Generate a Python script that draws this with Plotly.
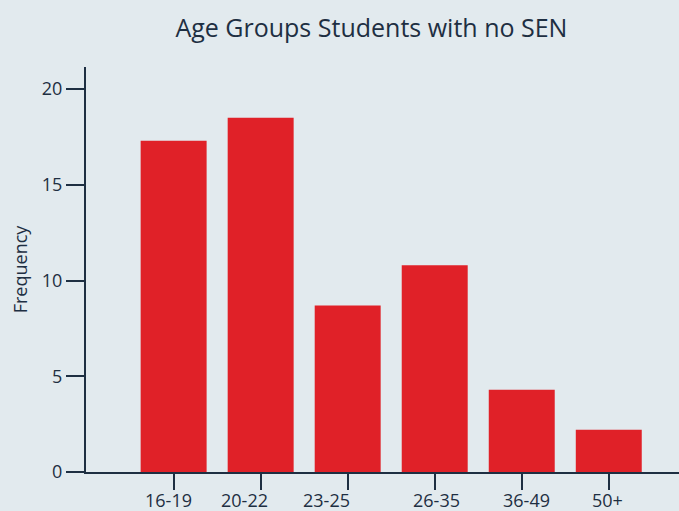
import plotly.graph_objects as go

age_groups = ["16-19", "20-22", "23-25", "26-35", "36-49", "50+"]
frequency = [17.3, 18.5, 8.7, 10.8, 4.3, 2.2]
y_ticks = [0, 5, 10, 15, 20]
# horizontal nudge (px) of each category label relative to its tick, as drawn in the source
label_nudge = [-5, -16, -21, 2, 5, -1]

BG = "#e2eaee"
INK = "#1e2f42"
RED = "#e02128"

fig = go.Figure(go.Bar(
    x=age_groups, y=frequency, marker_color=RED, width=0.758,
    marker_line_width=0,
))

for cat, dx in zip(age_groups, label_nudge):
    fig.add_annotation(
        x=cat, y=0, xref="x", yref="paper", text=cat, showarrow=False,
        xanchor="center", yanchor="top", xshift=dx, yshift=-14,
        font=dict(size=18, color=INK, family="Open Sans"),
    )

fig.update_layout(
    width=679, height=511, autosize=False,
    paper_bgcolor=BG, plot_bgcolor=BG,
    margin=dict(l=86, r=0, t=67, b=39),
    showlegend=False,
    font=dict(family="Open Sans", color=INK, size=17),
    title=dict(text="Age Groups Students with no SEN", x=0.547, xanchor="center",
               y=0.945, yanchor="middle", font=dict(size=25, color=INK)),
)
fig.update_xaxes(
    type="category", range=[-1.007, 5.807],
    showline=True, linecolor=INK, linewidth=2,
    ticks="outside", ticklen=16, tickwidth=2, tickcolor=INK,
    showgrid=False, zeroline=False, automargin=False,
    showticklabels=False,
)
fig.update_yaxes(
    range=[0, 21.15], tickvals=y_ticks,
    showline=True, linecolor=INK, linewidth=2,
    ticks="outside", ticklen=18, tickwidth=2, tickcolor=INK,
    showgrid=False, zeroline=False, automargin=False,
    tickfont=dict(size=18),
    title=dict(text="Frequency", font=dict(size=18), standoff=10),
)
fig.write_html(
    "out.html",
    config={"displayModeBar": False},
    post_script="document.body.style.margin='0';document.body.style.overflow='hidden';",
)
